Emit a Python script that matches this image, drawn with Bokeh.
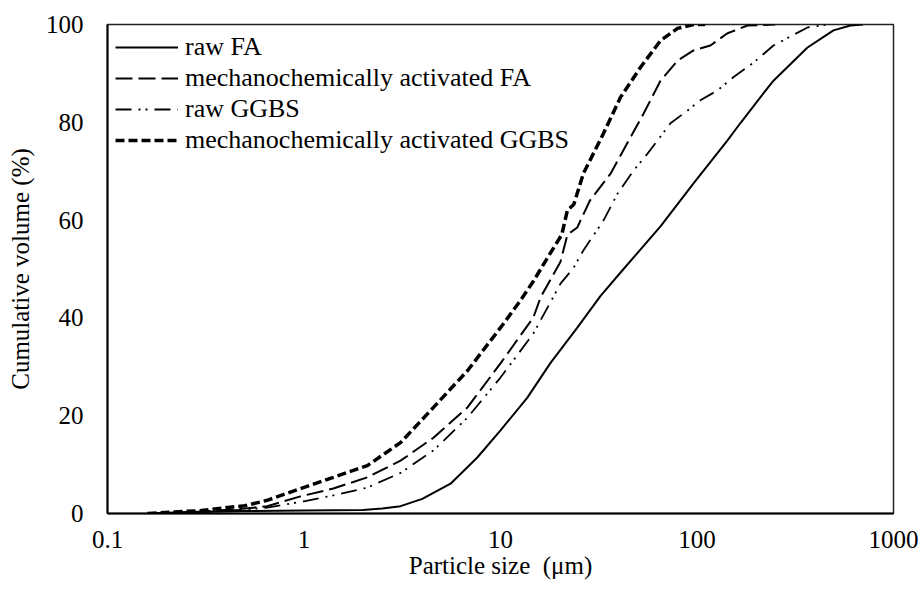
from bokeh.plotting import figure
from bokeh.models import Range1d, FixedTicker, Legend, LegendItem
from bokeh.embed import file_html
from bokeh.resources import INLINE

# ---- data ----
raw_fa_x = [0.16, 0.3, 0.5, 1.0, 2.0, 2.5, 3.1, 4.0, 5.57, 7.64, 10.0, 13.7, 17.9, 24.6, 32.3,
            42.3, 65.2, 96.0, 143.0, 166.0, 210.0, 245.0, 365.0, 495.0, 603.0, 700.0]
raw_fa_y = [0.0, 0.3, 0.5, 0.6, 0.7, 1.0, 1.5, 3.0, 6.1, 11.5, 17.0, 23.7, 30.7, 38.0, 44.5,
            50.0, 58.7, 67.5, 76.3, 79.8, 85.1, 88.5, 95.3, 98.8, 99.8, 100.0]

ma_fa_x = [0.16, 0.3, 0.5, 0.65, 0.96, 1.41, 2.1, 3.1, 4.56, 6.79, 10.0, 14.7, 16.0, 20.2, 21.9,
           24.6, 28.5, 36.3, 53.5, 65.2, 79.6, 96.0, 117.0, 143.0, 181.0, 250.0]
ma_fa_y = [0.0, 0.4, 1.0, 1.5, 3.5, 5.1, 7.4, 10.8, 15.5, 21.7, 30.7, 40.1, 44.2, 51.5, 57.0,
           58.5, 64.0, 69.5, 81.8, 88.5, 92.6, 94.7, 95.7, 98.2, 99.8, 100.0]

raw_ggbs_x = [0.16, 0.3, 0.5, 0.65, 1.0, 1.41, 2.1, 3.1, 4.56, 6.79, 10.0, 14.7, 20.2, 23.6, 26.4,
              33.4, 39.4, 47.5, 56.0, 63.0, 73.3, 89.5, 104.0, 127.0, 153.0, 194.0, 245.0, 365.0, 461.0]
raw_ggbs_y = [0.0, 0.3, 0.8, 1.2, 2.5, 3.7, 5.3, 8.3, 12.9, 19.6, 27.8, 36.8, 47.0, 50.3, 53.8,
              59.9, 65.4, 70.1, 73.6, 76.3, 79.8, 82.4, 84.5, 86.5, 89.2, 92.2, 95.7, 99.4, 100.0]

ma_ggbs_x = [0.16, 0.3, 0.5, 0.65, 0.96, 1.41, 2.1, 3.1, 4.56, 6.79, 10.0, 12.6, 14.7, 17.9, 20.5,
             21.9, 23.6, 26.4, 33.4, 40.8, 51.5, 65.2, 79.6, 96.0, 110.0]
ma_ggbs_y = [0.0, 0.6, 1.6, 2.7, 5.1, 7.4, 9.8, 14.5, 21.7, 29.2, 38.0, 43.5, 47.5, 53.2, 57.0,
             62.0, 63.2, 69.5, 77.7, 85.1, 91.2, 96.7, 99.2, 100.0, 100.0]

series_labels = ["raw FA", "mechanochemically activated FA", "raw GGBS",
                 "mechanochemically activated GGBS"]
x_ticks = [0.1, 1, 10, 100, 1000]
x_tick_labels = ["0.1", "1", "10", "100", "1000"]
y_ticks = [0, 20, 40, 60, 80, 100]

FONT = "Liberation Serif"

p = figure(width=922, height=589, x_axis_type="log",
           x_range=Range1d(0.1, 1000), y_range=Range1d(0, 100),
           output_backend="svg", toolbar_location=None,
           min_border_left=107, min_border_right=29, min_border_top=24, min_border_bottom=76)

p.xgrid.visible = False
p.ygrid.visible = False
p.outline_line_color = "#222222"
p.outline_line_width = 1.5
p.background_fill_color = "white"
p.border_fill_color = "white"

p.xaxis.ticker = FixedTicker(ticks=x_ticks, minor_ticks=[])
p.xaxis.major_label_overrides = {t: l for t, l in zip(x_ticks, x_tick_labels)}
p.yaxis.ticker = FixedTicker(ticks=y_ticks, minor_ticks=[])

for ax in (p.xaxis[0], p.yaxis[0]):
    ax.axis_line_color = "black"
    ax.axis_line_width = 2
    ax.major_tick_out = 0
    ax.major_tick_in = 0
    ax.minor_tick_out = 0
    ax.minor_tick_in = 0
    ax.major_label_text_font = FONT
    ax.major_label_text_font_size = "25px"
    ax.major_label_text_color = "black"
    ax.axis_label_text_font = FONT
    ax.axis_label_text_font_size = "25px"
    ax.axis_label_text_font_style = "normal"
    ax.axis_label_text_color = "black"

p.xaxis.axis_label = "Particle size\u00a0 (\u03bcm)"
p.yaxis.axis_label = "Cumulative volume (%)"
p.xaxis.major_label_standoff = 17
p.xaxis.axis_label_standoff = 1
p.yaxis.major_label_standoff = 24
p.yaxis.axis_label_standoff = 9

r1 = p.line(raw_fa_x, raw_fa_y, line_color="black", line_width=2)
r2 = p.line(ma_fa_x, ma_fa_y, line_color="black", line_width=2, line_dash="17 6")
r3 = p.line(raw_ggbs_x, raw_ggbs_y, line_color="black", line_width=1.8, line_dash="16 7 2 5 2 7")
r4 = p.line(ma_ggbs_x, ma_ggbs_y, line_color="black", line_width=3.5, line_dash="9 4")

legend = Legend(items=[LegendItem(label=series_labels[i], renderers=[r])
                       for i, r in enumerate([r1, r2, r3, r4])],
                location="top_left")
legend.label_text_font = FONT
legend.label_text_font_size = "26px"
legend.label_text_color = "black"
legend.glyph_width = 63
legend.glyph_height = 30
legend.label_height = 30
legend.label_standoff = 7
legend.spacing = 1
legend.padding = 8
legend.margin = 0
legend.background_fill_alpha = 0
legend.border_line_alpha = 0
p.add_layout(legend)

open("out.html", "w").write(file_html(p, INLINE))
